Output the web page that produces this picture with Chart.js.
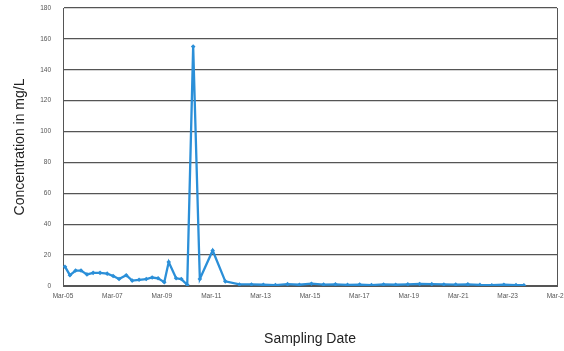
<!DOCTYPE html>
<html>
<head>
<meta charset="utf-8">
<script src="https://cdn.jsdelivr.net/npm/chart.js@4.4.1/dist/chart.umd.min.js"></script>
<style>
html,body{margin:0;padding:0;background:#fff;}
#wrap{width:564px;height:351px;}
</style>
</head>
<body>
<div id="wrap"><canvas id="c" width="564" height="351"></canvas></div>
<script>
// Sampling day (day of March, fractional) and concentration (mg/L)
const sampleDays = [5.08,5.28,5.51,5.73,5.97,6.22,6.50,6.79,7.03,7.27,7.56,7.80,8.08,8.37,8.61,8.85,9.10,9.28,9.58,9.79,10.03,10.27,10.54,11.06,11.57,12.14,
  12.63,13.11,13.60,14.09,14.57,15.06,15.55,16.03,16.52,17.01,17.49,17.98,18.47,18.96,19.44,19.93,20.42,20.90,21.39,21.88,22.36,22.85,23.34,23.66];
const concentration = [12.5,7,10,10,7.5,8.5,8.5,8,6.5,4.5,7,3.5,4,4.5,5.5,5,2.5,15.5,5,4.5,0.8,155,4.5,23,3,1,
  1,0.8,0.6,1.2,0.8,1.5,0.9,1.1,0.7,0.9,0.6,1,0.8,1.1,1.3,1.2,1,0.9,1.1,0.7,0.5,0.8,0.6,0.5];
const xTickDays = [5,7,9,11,13,15,17,19,21,23,25];
const xTickLabels = ['Mar-05','Mar-07','Mar-09','Mar-11','Mar-13','Mar-15','Mar-17','Mar-19','Mar-21','Mar-23','Mar-25'];
const yTicks = [0,20,40,60,80,100,120,140,160,180];

const points = sampleDays.map((d,i)=>({x:d,y:concentration[i]}));
const tickFont = {family:'Liberation Sans, Arial, sans-serif', size:6.5};
const titleFont = {family:'Liberation Sans, Arial, sans-serif', size:14};

new Chart(document.getElementById('c'), {
  type:'line',
  data:{datasets:[{
    data:points,
    borderColor:'#2b8fd8',
    backgroundColor:'#2b8fd8',
    borderWidth:2.3,
    pointRadius:2.3,
    pointStyle:'rectRot',
    pointBorderWidth:0,
    tension:0
  }]},
  options:{
    responsive:false,
    animation:false,
    layout:{padding:{top:8,right:0,left:0,bottom:0}},
    plugins:{legend:{display:false},tooltip:{enabled:false}},
    scales:{
      x:{
        type:'linear', min:xTickDays[0], max:xTickDays[xTickDays.length-1],
        afterBuildTicks:s=>{s.ticks = xTickDays.map(v=>({value:v}));},
        ticks:{autoSkip:false, maxRotation:0, color:'#555', font:tickFont, padding:6,
          callback:(v)=>{const i=xTickDays.indexOf(v);return i>=0?xTickLabels[i]:'';}},
        grid:{display:false, drawTicks:false},
        border:{display:true,color:'#555',width:1},
        title:{display:true,text:'Sampling Date',color:'#222',font:titleFont,padding:{top:0,bottom:3}},
        afterFit:s=>{s.height=65;s.paddingLeft=0;s.paddingRight=0;}
      },
      y:{
        min:0,max:180,
        afterBuildTicks:s=>{s.ticks = yTicks.map(v=>({value:v}));},
        ticks:{color:'#555',font:tickFont,padding:12},
        grid:{color:'#555',lineWidth:1.3,drawTicks:false},
        border:{display:true,color:'#555',width:1},
        title:{display:true,text:'Concentration in mg/L',color:'#222',font:titleFont,padding:{top:12,bottom:0}},
        afterFit:s=>{s.width=63;s.paddingTop=0;s.paddingBottom=0;}
      },
      y2:{
        position:'right',min:0,max:180,
        ticks:{display:false},
        grid:{display:false,drawTicks:false},
        border:{display:true,color:'#555',width:1},
        afterFit:s=>{s.width=7;}
      }
    }
  }
});
</script>
</body>
</html>
